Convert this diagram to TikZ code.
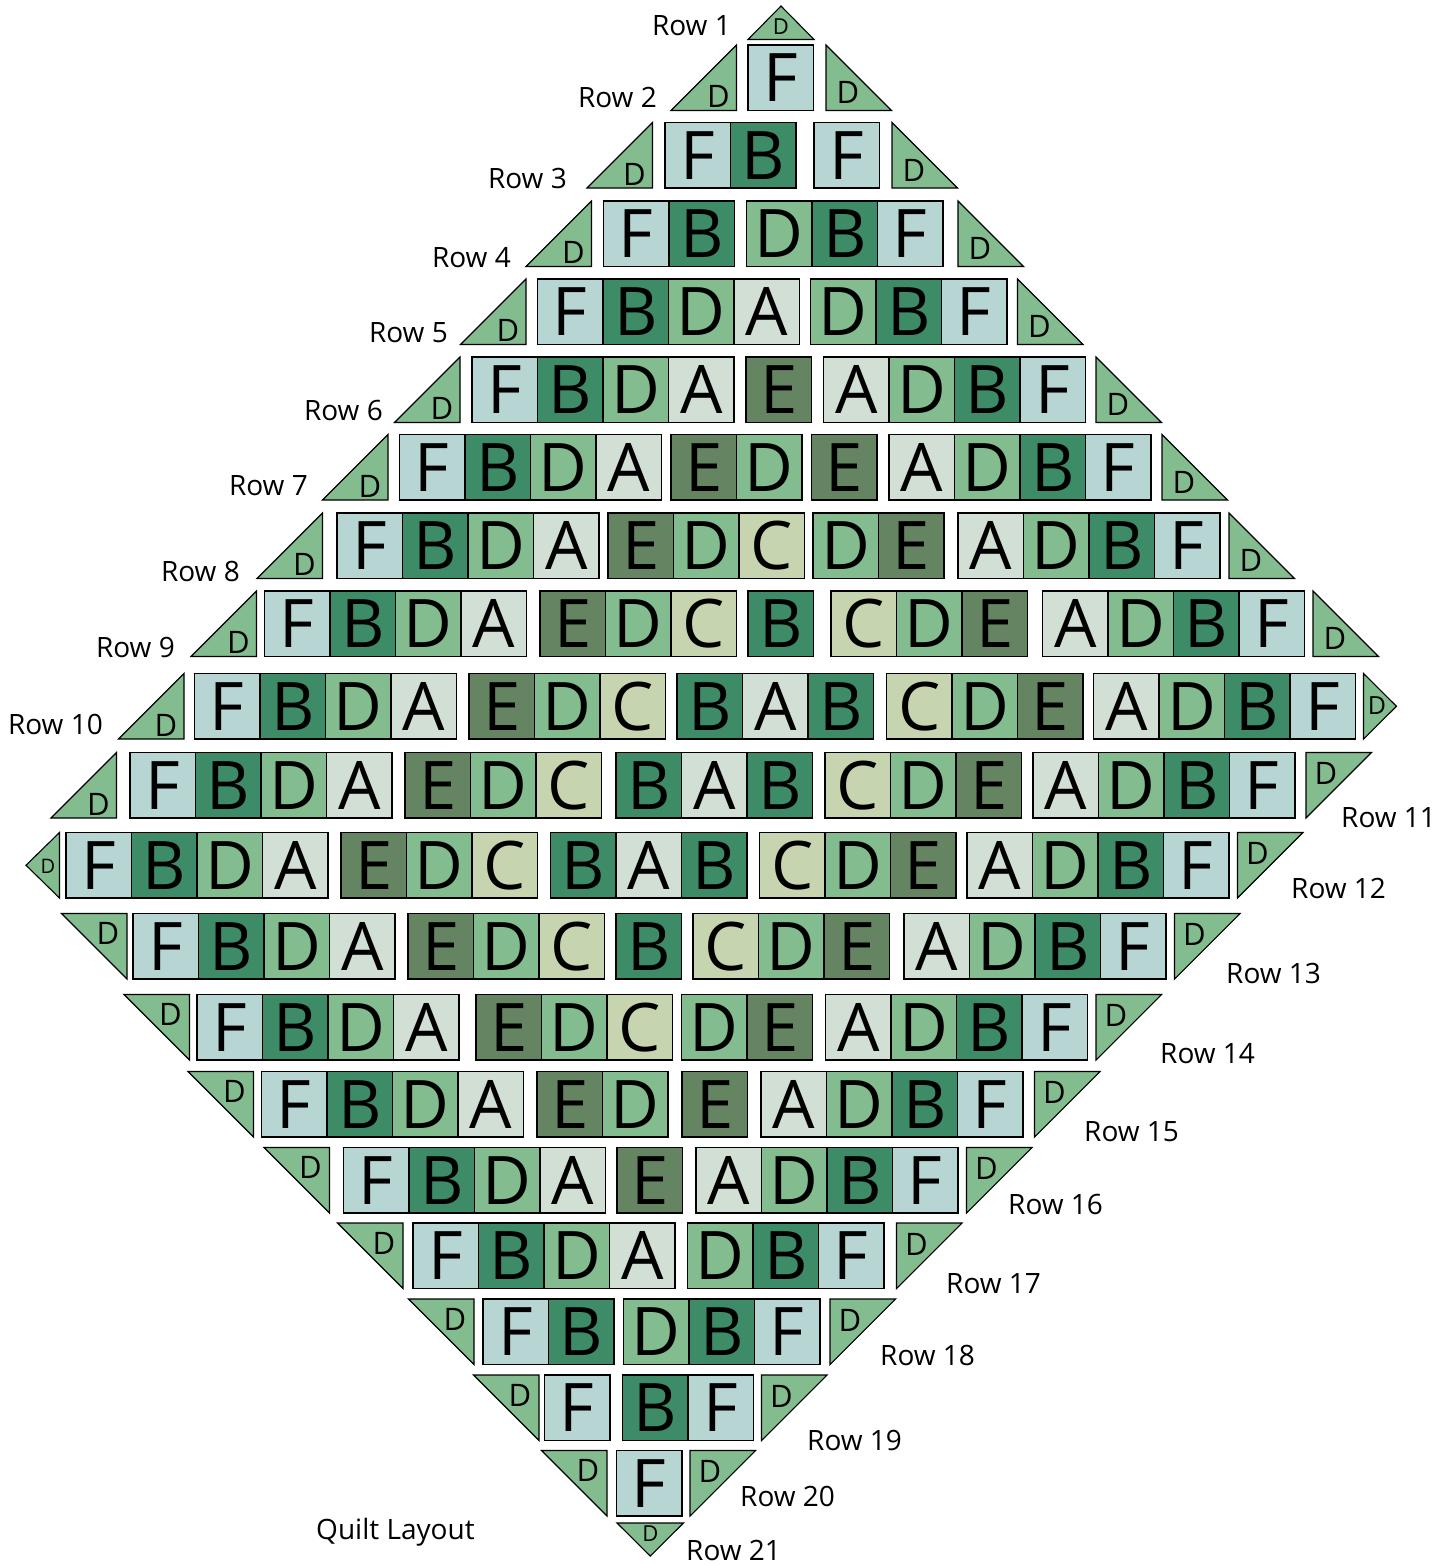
\documentclass[tikz,border=0pt]{standalone}
\usepackage{fontspec}
\setmainfont{Open Sans}
\definecolor{colF}{HTML}{B6D5D3}
\definecolor{colB}{HTML}{3E8B68}
\definecolor{colD}{HTML}{83BC8E}
\definecolor{colA}{HTML}{D2DFD4}
\definecolor{colE}{HTML}{648462}
\definecolor{colC}{HTML}{C6D5B0}
\tikzset{
  sq/.style={draw=black, line width=1.1pt, fill=col#1, minimum size=65.5pt, inner sep=0pt, font=\fontsize{67}{67}\selectfont},
  tri/.style={draw=black, line width=1.1pt, fill=colD},
  dl/.style={inner sep=0pt, font=\fontsize{31}{31}\selectfont},
  lab/.style={inner sep=0pt, font=\fontsize{28}{28}\selectfont},
}
\newcommand\grp[4]{\foreach \L [count=\i from 0] in {#4} {\node[sq=\L] (#1-\i) at ({#2+32.75+65.5*\i},{#3+32.75}) {\L};}}
\newcommand\triBR[3]{\draw[tri] (#2,{#3+65.5}) -- ({#2+65.5},{#3+65.5}) -- ({#2+65.5},#3) -- cycle; \node[dl] (#1) at ({#2+47.5},{#3+51.5}) {D};}
\newcommand\triBL[3]{\draw[tri] (#2,#3) -- (#2,{#3+65.5}) -- ({#2+65.5},{#3+65.5}) -- cycle; \node[dl] (#1) at ({#2+22},{#3+47.5}) {D};}
\newcommand\triTL[3]{\draw[tri] (#2,#3) -- ({#2+65.5},#3) -- (#2,{#3+65.5}) -- cycle; \node[dl] (#1) at ({#2+20},{#3+21}) {D};}
\newcommand\triTR[3]{\draw[tri] (#2,#3) -- ({#2+65.5},#3) -- ({#2+65.5},{#3+65.5}) -- cycle; \node[dl] (#1) at ({#2+46.5},{#3+20}) {D};}
\begin{document}
\begin{tikzpicture}[x=1pt,y=-1pt]
\useasboundingbox (0,0) rectangle (1455,1566);
% Row 1
\draw[tri] (748,39.5) -- (781,6) -- (814,39.5) -- cycle;
\node[dl,font=\fontsize{22}{22}\selectfont] (d1) at (781,27) {D};
% Row 2
\triBR{d2l}{671}{45} \grp{r2a}{748}{45}{F} \triBL{d2r}{826}{45}
% Row 3
\triBR{d3l}{587}{122.5} \grp{r3a}{665}{122.5}{F,B} \grp{r3b}{814}{122.5}{F} \triBL{d3r}{892}{122.5}
% Row 4
\triBR{d4l}{526}{201} \grp{r4a}{603.5}{201}{F,B} \grp{r4b}{746.5}{201}{D,B,F} \triBL{d4r}{958}{201}
% Row 5
\triBR{d5l}{460.5}{279} \grp{r5a}{537.5}{279}{F,B,D,A} \grp{r5b}{810.5}{279}{D,B,F} \triBL{d5r}{1017.5}{279}
% Row 6
\triBR{d6l}{394.5}{357} \grp{r6a}{472}{357}{F,B,D,A} \grp{r6b}{746}{357}{E} \grp{r6c}{823.5}{357}{A,D,B,F} \triBL{d6r}{1096}{357}
% Row 7
\triBR{d7l}{322.5}{434.5} \grp{r7a}{399.5}{434.5}{F,B,D,A} \grp{r7b}{671}{434.5}{E,D} \grp{r7c}{811.5}{434.5}{E} \grp{r7d}{889}{434.5}{A,D,B,F} \triBL{d7r}{1162}{434.5}
% Row 8
\triBR{d8l}{257}{513} \grp{r8a}{337}{513}{F,B,D,A} \grp{r8b}{608}{513}{E,D,C} \grp{r8c}{813}{513}{D,E} \grp{r8d}{958}{513}{A,D,B,F} \triBL{d8r}{1229}{513}
% Row 9
\triBR{d9l}{191}{591} \grp{r9a}{264.5}{591}{F,B,D,A} \grp{r9b}{540}{591}{E,D,C} \grp{r9c}{748}{591}{B} \grp{r9d}{831}{591}{C,D,E} \grp{r9e}{1042.5}{591}{A,D,B,F} \triBL{d9r}{1313}{591}
% Row 10
\triBR{d10l}{118.5}{673.5} \grp{r10a}{194.5}{673.5}{F,B,D,A} \grp{r10b}{469}{673.5}{E,D,C} \grp{r10c}{677}{673.5}{B,A,B} \grp{r10d}{886.5}{673.5}{C,D,E} \grp{r10e}{1093.5}{673.5}{A,D,B,F}
\draw[tri] (1363.5,673.5) -- (1396.5,706.25) -- (1363.5,739) -- cycle;
\node[dl,font=\fontsize{25}{25}\selectfont] (d10r) at (1377,706) {D};
% Row 11
\triBR{d11l}{51}{752.5} \grp{r11a}{130}{752.5}{F,B,D,A} \grp{r11b}{405}{752.5}{E,D,C} \grp{r11c}{616}{752.5}{B,A,B} \grp{r11d}{825}{752.5}{C,D,E} \grp{r11e}{1033}{752.5}{A,D,B,F} \triTL{d11r}{1306}{752.5}
% Row 12
\draw[tri] (59.5,832.5) -- (26,865.25) -- (59.5,898) -- cycle;
\node[dl,font=\fontsize{20}{20}\selectfont] (d12l) at (48,866) {D};
\grp{r12a}{66}{832.5}{F,B,D,A} \grp{r12b}{341}{832.5}{E,D,C} \grp{r12c}{550.5}{832.5}{B,A,B} \grp{r12d}{759.5}{832.5}{C,D,E} \grp{r12e}{967}{832.5}{A,D,B,F} \triTL{d12r}{1237.5}{832.5}
% Row 13
\triTR{d13l}{61.5}{913.5} \grp{r13a}{133}{913.5}{F,B,D,A} \grp{r13b}{408}{913.5}{E,D,C} \grp{r13c}{616}{913.5}{B} \grp{r13d}{693}{913.5}{C,D,E} \grp{r13e}{904}{913.5}{A,D,B,F} \triTL{d13r}{1174.5}{913.5}
% Row 14
\triTR{d14l}{124}{994.5} \grp{r14a}{197}{994.5}{F,B,D,A} \grp{r14b}{476}{994.5}{E,D,C} \grp{r14c}{681.5}{994.5}{D,E} \grp{r14d}{825.5}{994.5}{A,D,B,F} \triTL{d14r}{1096}{994.5}
% Row 15
\triTR{d15l}{188}{1071.5} \grp{r15a}{261.5}{1071.5}{F,B,D,A} \grp{r15b}{537}{1071.5}{E,D} \grp{r15c}{682}{1071.5}{E} \grp{r15d}{761}{1071.5}{A,D,B,F} \triTL{d15r}{1034.5}{1071.5}
% Row 16
\triTR{d16l}{264}{1147.5} \grp{r16a}{343.5}{1147.5}{F,B,D,A} \grp{r16b}{617}{1147.5}{E} \grp{r16c}{696}{1147.5}{A,D,B,F} \triTL{d16r}{966.5}{1147.5}
% Row 17
\triTR{d17l}{337.5}{1223} \grp{r17a}{413}{1223}{F,B,D,A} \grp{r17b}{687.5}{1223}{D,B,F} \triTL{d17r}{896.5}{1223}
% Row 18
\triTR{d18l}{408.5}{1299} \grp{r18a}{483}{1299}{F,B} \grp{r18b}{623.5}{1299}{D,B,F} \triTL{d18r}{830}{1299}
% Row 19
\triTR{d19l}{473.5}{1375} \grp{r19a}{544.5}{1375}{F} \grp{r19b}{622.5}{1375}{B,F} \triTL{d19r}{761.5}{1375}
% Row 20
\triTR{d20l}{541.5}{1450.5} \grp{r20a}{616.5}{1450.5}{F} \triTL{d20r}{690}{1450.5}
% Row 21
\draw[tri] (617,1523) -- (683.5,1523) -- (650.25,1556) -- cycle;
\node[dl,font=\fontsize{22}{22}\selectfont] (d21) at (650.5,1533.5) {D};
% Labels
\node[lab,anchor=base east] (l1) at (731,35) {Row 1};
\node[lab,anchor=base east] (l2) at (657,107) {Row 2};
\node[lab,anchor=base east] (l3) at (567,188) {Row 3};
\node[lab,anchor=base east] (l4) at (511,267) {Row 4};
\node[lab,anchor=base east] (l5) at (448,342) {Row 5};
\node[lab,anchor=base east] (l6) at (383,420) {Row 6};
\node[lab,anchor=base east] (l7) at (308,495) {Row 7};
\node[lab,anchor=base east] (l8) at (240,581) {Row 8};
\node[lab,anchor=base east] (l9) at (175,657) {Row 9};
\node[lab,anchor=base east] (l10) at (103,734) {Row 10};
\node[lab,anchor=base west] (l11) at (1341,827) {Row 11};
\node[lab,anchor=base west] (l12) at (1291,898) {Row 12};
\node[lab,anchor=base west] (l13) at (1226,983) {Row 13};
\node[lab,anchor=base west] (l14) at (1160,1063) {Row 14};
\node[lab,anchor=base west] (l15) at (1084,1141) {Row 15};
\node[lab,anchor=base west] (l16) at (1008,1214) {Row 16};
\node[lab,anchor=base west] (l17) at (946,1293) {Row 17};
\node[lab,anchor=base west] (l18) at (880,1365) {Row 18};
\node[lab,anchor=base west] (l19) at (807,1450) {Row 19};
\node[lab,anchor=base west] (l20) at (740,1506) {Row 20};
\node[lab,anchor=base west] (l21) at (686,1560) {Row 21};
\node[lab,anchor=base west] (ql) at (316,1539) {Quilt Layout};
\end{tikzpicture}
\end{document}
